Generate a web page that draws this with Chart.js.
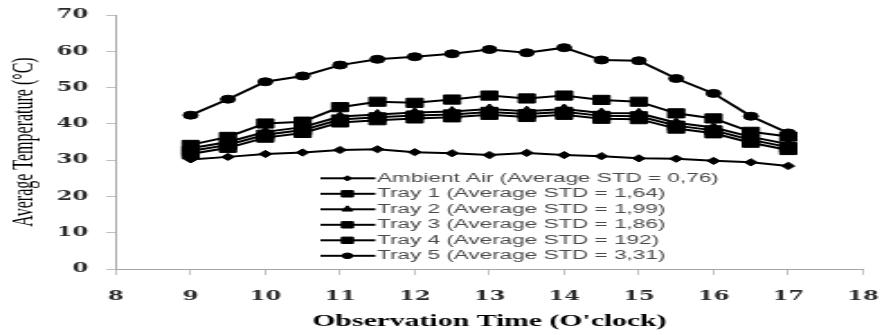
<!DOCTYPE html>
<html>
<head>
<meta charset="utf-8">
<script src="https://cdn.jsdelivr.net/npm/chart.js@4.4.1/dist/chart.umd.min.js"></script>
<style>
  html, body { margin: 0; padding: 0; background: #fff; overflow: hidden; }
  /* the reference is a horizontally stretched picture, so the chart is drawn narrow and stretched */
  #wrap { width: 489px; height: 332px; transform: scaleX(1.8); transform-origin: 0 0; }
</style>
</head>
<body>
<div id="wrap"><canvas id="chart" width="489" height="332"></canvas></div>
<script>
const times = [9, 9.5, 10, 10.5, 11, 11.5, 12, 12.5, 13, 13.5, 14, 14.5, 15, 15.5, 16, 16.5, 17];
const ambient = [30.2, 30.9, 31.7, 32.1, 32.8, 33.0, 32.2, 31.9, 31.4, 32.0, 31.4, 31.1, 30.5, 30.4, 29.8, 29.4, 28.4];
const tray1 = [34.2, 36.4, 40.1, 40.6, 44.6, 46.1, 45.8, 46.7, 47.8, 47.0, 47.8, 46.6, 46.1, 42.9, 41.5, 37.8, 36.5];
const tray2 = [33.3, 35.0, 37.8, 39.1, 42.0, 42.6, 43.1, 43.4, 44.1, 43.5, 44.1, 43.0, 42.9, 40.3, 39.0, 36.4, 34.4];
const tray3 = [32.5, 34.2, 37.0, 38.3, 41.2, 41.8, 42.3, 42.6, 43.3, 42.7, 43.3, 42.2, 42.1, 39.5, 38.2, 35.6, 33.6];
const tray4 = [31.7, 33.4, 36.2, 37.5, 40.4, 41.0, 41.5, 41.8, 42.5, 41.9, 42.5, 41.4, 41.3, 38.7, 37.4, 34.8, 32.8];
const tray5 = [42.4, 46.8, 51.6, 53.2, 56.2, 57.8, 58.5, 59.3, 60.5, 59.6, 61.0, 57.6, 57.4, 52.5, 48.4, 42.1, 37.5];
const seriesLabels = [
  'Ambient Air (Average STD = 0,76)',
  'Tray 1 (Average STD = 1,64)',
  'Tray 2 (Average STD = 1,99)',
  'Tray 3 (Average STD = 1,86)',
  'Tray 4 (Average STD = 192)',
  'Tray 5 (Average STD = 3,31)'
];
const seriesValues = [ambient, tray1, tray2, tray3, tray4, tray5];
const markers = ['rectRot', 'rect', 'triangle', 'rect', 'rect', 'circle'];
const markerSizes = [3.6, 6.5, 5, 6.5, 6.5, 4];

function toPoints(values) {
  return values.map((v, i) => ({ x: times[i], y: v }));
}

// legend drawn inside the plot: a short line with the marker on it, then the label
const lineLegend = {
  id: 'lineLegend',
  afterDraw(chart) {
    const ctx = chart.ctx;
    chart.data.datasets.forEach((ds, i) => {
      const y = 178.3 + i * 15.5;
      ctx.save();
      ctx.strokeStyle = '#000';
      ctx.lineWidth = 2;
      ctx.beginPath();
      ctx.moveTo(178, y);
      ctx.lineTo(208.5, y);
      ctx.stroke();
      ctx.fillStyle = '#000';
      ctx.lineWidth = 1;
      Chart.helpers.drawPoint(ctx, { pointStyle: ds.pointStyle, radius: ds.pointRadius * 0.7, borderWidth: 1, rotation: 0 }, 193, y);
      ctx.fillStyle = '#4a4a4a';
      ctx.font = '12.5px "Liberation Sans"';
      ctx.textBaseline = 'middle';
      ctx.fillText(ds.label, 209.5, y);
      ctx.restore();
    });
  }
};

const tickFont = { family: 'DejaVu Serif', weight: 'bold', size: 12.5 };

new Chart(document.getElementById('chart'), {
  type: 'line',
  data: {
    datasets: seriesValues.map((vals, i) => ({
      label: seriesLabels[i],
      data: toPoints(vals),
      borderColor: '#000',
      backgroundColor: '#000',
      borderWidth: 2,
      pointStyle: markers[i],
      pointRadius: markerSizes[i],
      pointBorderWidth: 1,
      tension: 0
    }))
  },
  options: {
    responsive: false,
    animation: false,
    devicePixelRatio: 1,
    layout: { padding: { left: 0, right: 9.6, top: 15, bottom: 0 } },
    plugins: { legend: { display: false }, tooltip: { enabled: false } },
    scales: {
      x: {
        type: 'linear', min: 8, max: 18,
        ticks: { stepSize: 1, padding: 14, color: '#2a2a2a', font: tickFont },
        grid: { drawOnChartArea: false, tickLength: 6, color: '#c0c0c0' },
        border: { color: '#a6a6a6', width: 1 },
        title: {
          display: true, text: "Observation Time (O'clock)", color: '#000',
          font: { family: 'Liberation Serif', weight: 'bold', size: 16.5 },
          padding: { top: 0, bottom: 0.5 }
        },
        afterFit: (s) => { s.height = 63; s.paddingLeft = 0; s.paddingRight = 0; }
      },
      y: {
        min: 0, max: 70,
        ticks: { stepSize: 10, padding: 10, color: '#2a2a2a', font: tickFont },
        grid: { drawOnChartArea: false, tickLength: 5.5, color: '#c0c0c0' },
        border: { color: '#a6a6a6', width: 1 },
        title: {
          display: true, text: 'Average Temperature (°C)', color: '#000',
          font: { family: 'Liberation Serif', size: 16 },
          padding: { top: 4.3, bottom: 0 }
        },
        afterFit: (s) => { s.width = 64.4; s.paddingTop = 0; s.paddingBottom = 0; }
      }
    }
  },
  plugins: [lineLegend]
});
</script>
</body>
</html>
